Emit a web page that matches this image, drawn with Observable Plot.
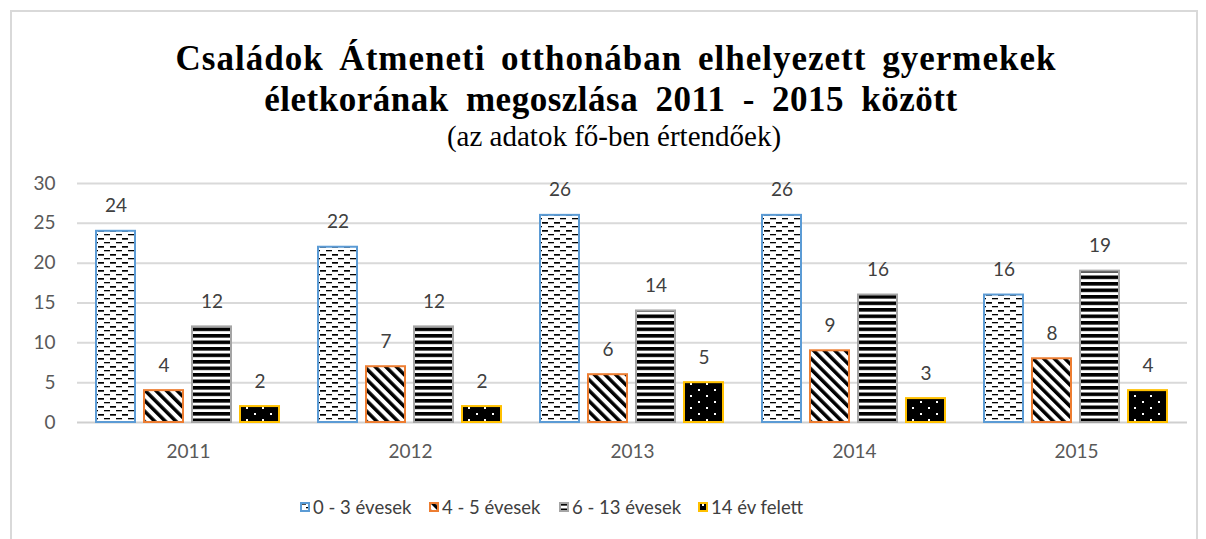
<!DOCTYPE html>
<html>
<head>
<meta charset="utf-8">
<script src="https://cdn.jsdelivr.net/npm/d3@7"></script>
<script src="https://cdn.jsdelivr.net/npm/@observablehq/plot@0.6"></script>
<style>
  html, body { margin: 0; padding: 0; background: #fff; }
  body { width: 1206px; height: 539px; position: relative; overflow: hidden; }
  #frame { position: absolute; left: 10px; top: 10px; width: 1188px; height: 560px; border: 2px solid #d9d9d9; box-sizing: border-box; }
  #title { position: absolute; left: 0; width: 1206px; top: 38px; text-align: center; font-family: "Liberation Serif", "Times New Roman", serif; font-weight: bold; font-size: 35px; line-height: 41px; color: #000; word-spacing: 6px; letter-spacing: 1px; }
  #title .l1 { display: block; padding-left: 26px; }
  #title .l2 { display: block; letter-spacing: 0.5px; word-spacing: 8px; padding-left: 16px; }
  #subtitle { position: absolute; left: 11px; width: 1206px; top: 120px; text-align: center; font-family: "Liberation Serif", "Times New Roman", serif; font-size: 29px; line-height: 32px; color: #000; }
  #chart { position: absolute; left: 0; top: 165px; }
  .leg { position: absolute; top: 496px; height: 22px; display: flex; align-items: center; font-family: Lato, sans-serif; font-size: 18.5px; color: #404040; white-space: nowrap; }
  .leg svg { margin-right: 3px; }
</style>
</head>
<body>
<svg width="0" height="0" style="position:absolute">
  <defs>
    <pattern id="p0" patternUnits="userSpaceOnUse" width="12" height="8">
      <rect width="12" height="8" fill="#fff"/>
      <rect x="0" y="1" width="6" height="1.7" fill="#000"/>
      <rect x="6" y="5" width="6" height="1.3" fill="#000"/>
    </pattern>
    <pattern id="p1" patternUnits="userSpaceOnUse" width="7.5" height="10" patternTransform="rotate(-45)">
      <rect width="7.5" height="10" fill="#fff"/>
      <rect x="0" y="0" width="3.5" height="10" fill="#000"/>
    </pattern>
    <pattern id="p2" patternUnits="userSpaceOnUse" width="10" height="6.5">
      <rect width="10" height="6.5" fill="#fff"/>
      <rect x="0" y="0" width="10" height="3.6" fill="#000"/>
    </pattern>
    <pattern id="p3" patternUnits="userSpaceOnUse" width="16" height="12">
      <rect width="16" height="12" fill="#000"/>
      <rect x="4" y="2" width="2" height="2" fill="#fff"/>
      <rect x="12" y="8" width="2" height="2" fill="#fff"/>
    </pattern>
  </defs>
</svg>
<div id="frame"></div>
<div id="title"><span class="l1">Családok Átmeneti otthonában elhelyezett gyermekek</span><span class="l2">életkorának megoszlása 2011 - 2015 között</span></div>
<div id="subtitle">(az adatok fő-ben értendőek)</div>
<div id="chart"></div>
<div id="legend"></div>
<script>
const years = ["2011", "2012", "2013", "2014", "2015"];
const seriesNames = ["0 - 3 évesek", "4 - 5 évesek", "6 - 13 évesek", "14 év felett"];
const age0to3 = [24, 22, 26, 26, 16];
const age4to5 = [4, 7, 6, 9, 8];
const age6to13 = [12, 12, 14, 16, 19];
const age14plus = [2, 2, 5, 3, 4];
const seriesColors = ["#5B9BD5", "#ED7D31", "#A5A5A5", "#FFC000"];
const seriesPatterns = ["url(#p0)", "url(#p1)", "url(#p2)", "url(#p3)"];
const yTicks = [0, 5, 10, 15, 20, 25, 30];

const seriesValues = [age0to3, age4to5, age6to13, age14plus];
const rows = [];
seriesValues.forEach((vals, si) => {
  vals.forEach((v, yi) => rows.push({year: years[yi], series: seriesNames[si], si, value: v}));
});

const barMarks = seriesNames.map((name, si) =>
  Plot.barY(rows.filter(d => d.si === si), {
    fx: "year", x: "series", y: "value",
    fill: seriesPatterns[si], stroke: seriesColors[si], strokeWidth: 2
  })
);

const chart = Plot.plot({
  width: 1206,
  height: 300,
  marginLeft: 75,
  marginRight: 18,
  marginTop: 18,
  marginBottom: 43,
  style: {fontFamily: "Lato, sans-serif", fontSize: "19px", color: "#595959", background: "transparent"},
  fx: {domain: years, padding: 0, axis: "bottom", tickSize: 0, tickPadding: 22, label: null},
  x: {domain: seriesNames, paddingInner: 0.178, paddingOuter: 0.39, axis: null},
  y: {domain: [0, 30], ticks: yTicks, tickSize: 0, tickPadding: 22, label: null},
  marks: [
    Plot.ruleY(yTicks.filter(t => t > 0), {stroke: "#d9d9d9", strokeWidth: 2}),
    Plot.ruleY([0], {stroke: "#cfcfcf", strokeWidth: 2}),
    ...barMarks,
    Plot.text(rows, {fx: "year", x: "series", y: "value", text: d => String(d.value), dy: -25, fontSize: 19, fill: "#404040"})
  ]
});
document.getElementById("chart").appendChild(chart);

const legendLefts = [300, 429, 559, 698];
const legend = document.getElementById("legend");
seriesNames.forEach((name, si) => {
  const item = document.createElement("div");
  item.className = "leg";
  item.style.left = legendLefts[si] + "px";
  item.innerHTML = `<svg width="10" height="10"><rect x="1" y="1" width="8" height="8" fill="${seriesPatterns[si]}" stroke="${seriesColors[si]}" stroke-width="2"/></svg><span>${name}</span>`;
  legend.appendChild(item);
});
</script>
</body>
</html>
